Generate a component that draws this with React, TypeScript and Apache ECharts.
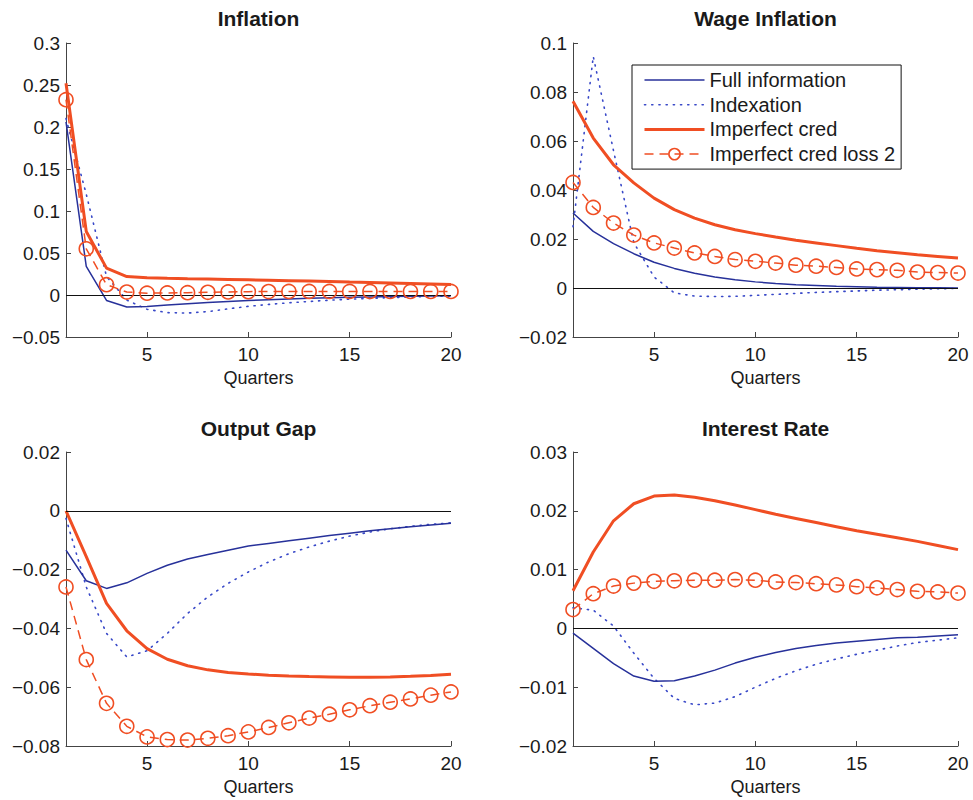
import React, { useEffect, useRef } from "react";
import * as echarts from "echarts";

const quarters = [1, 2, 3, 4, 5, 6, 7, 8, 9, 10, 11, 12, 13, 14, 15, 16, 17, 18, 19, 20];
const seriesNames = ["Full information", "Indexation", "Imperfect cred", "Imperfect cred loss 2"];
const panelTitles = ["Inflation", "Wage Inflation", "Output Gap", "Interest Rate"];
const xTickValues = [5, 10, 15, 20];
const xAxisName = "Quarters";

// Inflation
const inflFull = [0.206, 0.034, -0.0065, -0.0143, -0.0136, -0.012, -0.0105, -0.009, -0.0077, -0.0066, -0.0056, -0.0048, -0.004, -0.0034, -0.0028, -0.0023, -0.0018, -0.0014, -0.0011, -0.0008];
const inflIndex = [0.21, 0.12, 0.022, -0.006, -0.017, -0.021, -0.0215, -0.0198, -0.0165, -0.0135, -0.0112, -0.0093, -0.0077, -0.0062, -0.005, -0.004, -0.0031, -0.0024, -0.0018, -0.0013];
const inflImperf = [0.252, 0.0757, 0.032, 0.022, 0.0205, 0.0198, 0.0193, 0.0189, 0.0185, 0.0181, 0.0176, 0.0171, 0.0166, 0.0161, 0.0155, 0.015, 0.0144, 0.0138, 0.0132, 0.0124];
const inflLoss2 = [0.2325, 0.055, 0.0123, 0.0035, 0.0022, 0.0024, 0.0028, 0.0032, 0.0036, 0.004, 0.0041, 0.0042, 0.0042, 0.0042, 0.0042, 0.0042, 0.0042, 0.0042, 0.0042, 0.0042];

// Wage inflation
const wageFull = [0.0306, 0.0231, 0.0181, 0.014, 0.0105, 0.008, 0.006, 0.0045, 0.0034, 0.0025, 0.0018, 0.0013, 0.001, 0.0007, 0.0005, 0.0003, 0.0002, 0.0001, 0.0001, 0.0];
const wageIndex = [0.025, 0.0945, 0.056, 0.0185, 0.0045, -0.002, -0.0033, -0.0035, -0.0034, -0.003, -0.0026, -0.0022, -0.0018, -0.0015, -0.0012, -0.0009, -0.0007, -0.0005, -0.0003, -0.0002];
const wageImperf = [0.0762, 0.0612, 0.0503, 0.0429, 0.0367, 0.032, 0.0285, 0.0258, 0.0238, 0.0222, 0.0208, 0.0195, 0.0184, 0.0173, 0.0162, 0.0152, 0.0144, 0.0136, 0.0129, 0.0122];
const wageLoss2 = [0.0431, 0.0329, 0.0265, 0.0216, 0.0184, 0.0163, 0.0143, 0.0129, 0.0116, 0.0109, 0.0102, 0.0093, 0.0089, 0.0084, 0.0078, 0.0075, 0.0072, 0.0065, 0.0063, 0.0061];

// Output gap
const gapFull = [-0.0134, -0.0238, -0.0264, -0.0245, -0.0213, -0.0185, -0.0164, -0.0149, -0.0134, -0.012, -0.0111, -0.0102, -0.0093, -0.0084, -0.0076, -0.0068, -0.0061, -0.0054, -0.0048, -0.0042];
const gapIndex = [-0.0026, -0.0259, -0.0417, -0.0497, -0.0476, -0.0417, -0.0349, -0.0293, -0.0247, -0.0208, -0.0174, -0.0146, -0.0123, -0.0103, -0.0086, -0.0072, -0.0061, -0.0053, -0.0046, -0.0041];
const gapImperf = [0.0, -0.0156, -0.0315, -0.0408, -0.0469, -0.0505, -0.0527, -0.0541, -0.055, -0.0555, -0.0559, -0.0562, -0.0564, -0.0565, -0.0566, -0.0566, -0.0565, -0.0563, -0.056, -0.0556];
const gapLoss2 = [-0.0259, -0.0506, -0.0655, -0.0733, -0.0769, -0.0778, -0.078, -0.0774, -0.0765, -0.0752, -0.0737, -0.0721, -0.0705, -0.0692, -0.0677, -0.0663, -0.0651, -0.064, -0.0627, -0.0616];

// Interest rate
const rateFull = [-0.0008, -0.0034, -0.006, -0.0081, -0.009, -0.0089, -0.0081, -0.0071, -0.0059, -0.0049, -0.0041, -0.0034, -0.0029, -0.0025, -0.0022, -0.0019, -0.0016, -0.0015, -0.0013, -0.0011];
const rateIndex = [0.0035, 0.0031, 0.0004, -0.0042, -0.0085, -0.0119, -0.013, -0.0127, -0.0116, -0.01, -0.0085, -0.0072, -0.0061, -0.0052, -0.0044, -0.0037, -0.003, -0.0024, -0.002, -0.0016];
const rateImperf = [0.0064, 0.013, 0.0183, 0.0212, 0.0225, 0.0227, 0.0223, 0.0217, 0.021, 0.0202, 0.0194, 0.0187, 0.018, 0.0173, 0.0166, 0.016, 0.0154, 0.0148, 0.0141, 0.0134];
const rateLoss2 = [0.0032, 0.0059, 0.0072, 0.0077, 0.008, 0.0081, 0.0082, 0.0082, 0.0083, 0.0082, 0.0079, 0.0078, 0.0076, 0.0074, 0.0071, 0.0069, 0.0066, 0.0063, 0.0062, 0.006];

// Axis ranges
const yMins = [-0.05, -0.02, -0.08, -0.02];
const yMaxs = [0.3, 0.1, 0.02, 0.03];
const yIntervals = [0.05, 0.02, 0.02, 0.01];

const panelData = [
  [inflFull, inflIndex, inflImperf, inflLoss2],
  [wageFull, wageIndex, wageImperf, wageLoss2],
  [gapFull, gapIndex, gapImperf, gapLoss2],
  [rateFull, rateIndex, rateImperf, rateLoss2],
];

const FONT = "'Liberation Sans', Arial, Helvetica, sans-serif";
const BLUE = "#27319a";
const BLUE_DOT = "#3848c8";
const RED = "#f04e23";
const AXIS = "#444";
const CLEAR = "rgba(255,255,255,0)";

const grids = [
  { left: 66, top: 43, width: 385, height: 294 },
  { left: 573, top: 43, width: 385, height: 294 },
  { left: 66, top: 452, width: 385, height: 294 },
  { left: 573, top: 452, width: 385, height: 294 },
];

const fmt = (v: number) => {
  const r = Math.round(v * 10000) / 10000;
  if (r === 0) return "0";
  return (r < 0 ? "\u2212" : "") + String(Math.abs(r));
};

const legendLineStyles = [
  { color: BLUE, width: 1.5, type: "solid" },
  { color: BLUE_DOT, width: 1.6, type: [1.2, 6], cap: "round" },
  { color: RED, width: 3, type: "solid" },
  { color: RED, width: 1.5, type: [9, 6] },
];

export default function App() {
  const ref = useRef<HTMLDivElement>(null);
  useEffect(() => {
    const chart = echarts.init(ref.current!, null, { renderer: "svg" });
    const series: any[] = [];
    panelData.forEach((arrs, i) => {
      const pts = (a: number[]) => quarters.map((q, k) => [q, a[k]]);
      series.push({
        name: seriesNames[0], type: "line", xAxisIndex: i, yAxisIndex: i, data: pts(arrs[0]),
        symbol: "none", lineStyle: { color: BLUE, width: 1.5 }, itemStyle: { color: BLUE }, z: 3,
        markLine: {
          silent: true, symbol: "none", label: { show: false },
          lineStyle: { color: "#111", width: 1, type: "solid" },
          data: [{ yAxis: 0 }],
        },
      });
      series.push({
        name: seriesNames[1], type: "line", xAxisIndex: i, yAxisIndex: i, data: pts(arrs[1]),
        symbol: "none", lineStyle: { color: BLUE_DOT, width: 1.6, type: [1.2, 6], cap: "round" },
        itemStyle: { color: BLUE_DOT }, z: 2,
      });
      series.push({
        name: seriesNames[2], type: "line", xAxisIndex: i, yAxisIndex: i, data: pts(arrs[2]),
        symbol: "none", lineStyle: { color: RED, width: 3 }, itemStyle: { color: RED }, z: 4,
      });
      series.push({
        name: seriesNames[3], type: "line", xAxisIndex: i, yAxisIndex: i, data: pts(arrs[3]),
        symbol: "circle", symbolSize: 14, showAllSymbol: true,
        lineStyle: { color: RED, width: 1.5, type: [9, 6] },
        itemStyle: { color: CLEAR, borderColor: RED, borderWidth: 1.6 }, z: 5,
      });
    });

    const option: any = {
      animation: false,
      backgroundColor: "#fff",
      textStyle: { fontFamily: FONT },
      title: panelTitles.map((t, i) => ({
        text: t,
        left: grids[i].left + grids[i].width / 2,
        top: i < 2 ? 8 : 418,
        textAlign: "center",
        padding: 0,
        textStyle: { fontSize: 21, fontWeight: "bold", color: "#1a1a1a", fontFamily: FONT },
      })),
      legend: {
        data: seriesNames.map((n, k) => ({
          name: n,
          lineStyle: legendLineStyles[k],
          itemStyle: k === 3
            ? { color: CLEAR, borderColor: RED, borderWidth: 1.6 }
            : { color: CLEAR, borderColor: CLEAR, borderWidth: 0 },
        })),
        orient: "vertical",
        left: 632,
        top: 65,
        padding: [5, 6, 5, 11],
        itemWidth: 60,
        itemHeight: 14,
        itemGap: 4.7,
        borderColor: "#111",
        borderWidth: 1,
        backgroundColor: "#fff",
        selectedMode: false,
        textStyle: { fontSize: 20, color: "#1a1a1a", fontFamily: FONT, lineHeight: 20 },
      },
      grid: grids.map((g) => ({ ...g, containLabel: false, outerBoundsMode: "none" })),
      xAxis: grids.map((g, i) => ({
        type: "value",
        gridIndex: i,
        min: 1,
        max: 20,
        name: xAxisName,
        nameLocation: "middle",
        nameGap: 32,
        nameTextStyle: { fontSize: 18, color: "#1a1a1a", fontFamily: FONT },
        axisLine: { show: true, onZero: false, lineStyle: { color: AXIS, width: 1 } },
        axisTick: { show: true, inside: true, length: 5, customValues: xTickValues, lineStyle: { color: AXIS } },
        axisLabel: { customValues: xTickValues, fontSize: 19, color: "#1a1a1a", margin: 8, fontFamily: FONT },
        splitLine: { show: false },
      })),
      yAxis: grids.map((g, i) => ({
        type: "value",
        gridIndex: i,
        min: yMins[i],
        max: yMaxs[i],
        interval: yIntervals[i],
        axisLine: { show: true, onZero: false, lineStyle: { color: AXIS, width: 1 } },
        axisTick: { show: true, inside: true, length: 5, lineStyle: { color: AXIS } },
        axisLabel: { formatter: fmt, fontSize: 19, color: "#1a1a1a", margin: 6, fontFamily: FONT, showMinLabel: true, showMaxLabel: true },
        splitLine: { show: false },
      })),
      series,
    };
    chart.setOption(option);
    return () => chart.dispose();
  }, []);
  return (
    <div
      ref={ref}
      style={{ position: "absolute", left: 0, top: 0, width: 973, height: 800, background: "#fff" }}
    />
  );
}
